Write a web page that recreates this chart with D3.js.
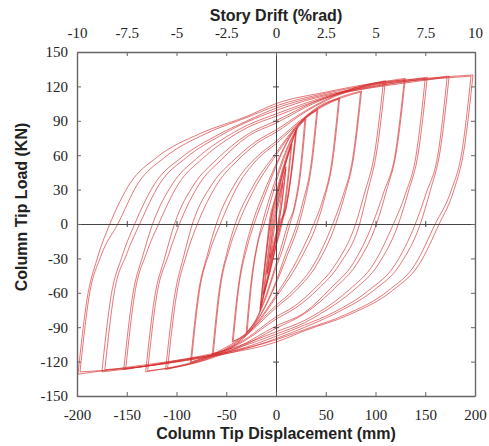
<!DOCTYPE html>
<html><head><meta charset="utf-8">
<script src="https://cdn.jsdelivr.net/npm/d3@7"></script>
<style>body{margin:0;background:#fff}</style></head>
<body>
<svg id="c" width="489" height="446"></svg>
<script>
// ---- tick values / labels ----
const dispTicks = [-200,-150,-100,-50,0,50,100,150,200];
const dispLabels = ["-200","-150","-100","-50","0","50","100","150","200"];
const driftTicks = [-10,-7.5,-5,-2.5,0,2.5,5,7.5,10];
const driftLabels = ["-10","-7.5","-5","-2.5","0","2.5","5","7.5","10"];
const loadTicks = [-150,-120,-90,-60,-30,0,30,60,90,120,150];
const loadLabels = ["-150","-120","-90","-60","-30","0","30","60","90","120","150"];

// ---- hysteresis branches [displacement mm, load kN] ----
const up7 = [[-6,-30],[-3,-12],[-1,0],[0,6],[4,22],[7,36]];
const dn7 = [[7,36],[4,14],[2,0],[0,-8],[-3,-18],[-6,-30]];
const up10 = [[-9,-44],[-5,-18],[-2,0],[0,10],[5,30],[10,50]];
const dn10 = [[10,50],[6,20],[3,0],[0,-12],[-5,-30],[-9,-44]];
const up10b = [[-9,-42],[-5,-16],[-3,0],[0,12],[5,32],[10,48]];
const dn10b = [[10,48],[6,18],[2,0],[0,-10],[-5,-28],[-9,-42]];
const up15 = [[-12,-60],[-8,-30],[-5,-8],[-4,0],[0,16],[6,40],[11,56],[15,68]];
const dn15 = [[15,68],[11,34],[7,8],[5,0],[0,-18],[-6,-40],[-12,-60]];
const up15b = [[-13,-62],[-9,-32],[-6,-9],[-5,0],[0,19],[6,42],[11,58],[16,70]];
const dn15b = [[16,70],[12,36],[8,9],[6,0],[0,-20],[-6,-42],[-13,-62]];
const up21a = [[-16,-76],[-12,-42],[-8,-14],[-6,0],[0,22],[8,48],[15,68],[21,84]];
const dn21a = [[21,84],[16,46],[10,14],[4,0],[0,-14],[-8,-46],[-16,-76]];
const up21b = [[-16,-74],[-12,-40],[-9,-16],[-7,0],[0,24],[8,50],[15,69],[20,82]];
const dn21b = [[20,82],[15,44],[9,12],[3,0],[0,-12],[-8,-44],[-16,-74]];
const up21c = [[-15,-72],[-11,-38],[-8,-13],[-6,0],[0,26],[8,52],[14,68],[20,80]];
const dn21c = [[20,80],[15,42],[10,13],[5,0],[0,-18],[-8,-48],[-15,-72]];
const up30a = [[-30,-95],[-25,-50],[-19,-18],[-14,0],[-6,24],[0,40],[10,64],[20,82],[30,92]];
const dn30a = [[30,92],[25,46],[19,15],[14,0],[6,-24],[0,-38],[-10,-64],[-20,-84],[-29,-94]];
const up30b = [[-29,-94],[-24,-48],[-18,-16],[-12,0],[-4,24],[0,36],[10,62],[20,81],[29,91]];
const dn30b = [[29,91],[24,45],[18,14],[12,0],[4,-24],[0,-35],[-10,-62],[-20,-83],[-30,-95]];
const up43a = [[-44,-103],[-38,-55],[-31,-22],[-24,0],[-12,28],[0,52],[15,78],[30,93],[42,100]];
const dn43a = [[42,100],[36,52],[29,20],[23,0],[11,-28],[0,-52],[-15,-79],[-30,-96],[-43,-102]];
const up43b = [[-43,-102],[-37,-53],[-29,-20],[-22,0],[-10,28],[0,50],[15,77],[30,92],[41,99]];
const dn43b = [[41,99],[35,51],[27,19],[21,0],[9,-28],[0,-50],[-15,-78],[-30,-95],[-44,-103]];
const up64a = [[-64,-114],[-57,-57],[-49,-24],[-41,0],[-25,30],[0,62],[20,85],[40,101],[64,110]];
const dn64a = [[64,110],[57,55],[49,23],[41,0],[25,-30],[0,-64],[-20,-88],[-40,-105],[-63,-113]];
const up64b = [[-63,-113],[-56,-56],[-47,-22],[-38,0],[-22,30],[0,60],[20,84],[40,100],[63,109]];
const dn64b = [[63,109],[56,54],[47,21],[38,0],[22,-30],[0,-62],[-20,-87],[-40,-104],[-64,-114]];
const up86a = [[-86,-121],[-78,-60],[-69,-27],[-60,0],[-42,34],[-20,58],[0,72],[30,94],[60,109],[86,116]];
const dn86a = [[86,116],[78,58],[69,25],[60,0],[42,-34],[20,-58],[0,-73],[-30,-97],[-60,-113],[-85,-120]];
const up86b = [[-85,-120],[-77,-59],[-67,-25],[-56,0],[-38,34],[-17,58],[0,70],[30,93],[60,108],[85,115]];
const dn86b = [[85,115],[77,57],[67,24],[57,0],[39,-34],[17,-58],[0,-71],[-30,-96],[-60,-112],[-86,-121]];
const up110a = [[-111,-127],[-102,-63],[-93,-29],[-84,0],[-64,35],[-42,56],[-20,72],[0,82],[30,99],[70,116],[110,125]];
const dn110a = [[110,125],[101,62],[92,28],[84,0],[64,-35],[42,-57],[20,-73],[0,-83],[-30,-101],[-70,-118],[-109,-126]];
const up110b = [[-109,-126],[-100,-62],[-90,-27],[-79,0],[-59,35],[-38,56],[-18,71],[0,80],[30,98],[70,115],[108,124]];
const dn110b = [[108,124],[99,61],[89,27],[80,0],[60,-35],[38,-57],[18,-72],[0,-81],[-30,-100],[-70,-117],[-111,-127]];
const up130a = [[-131,-129],[-122,-64],[-112,-30],[-102,0],[-82,35],[-60,56],[-29,78],[0,90],[40,107],[90,121],[130,127]];
const dn130a = [[130,127],[121,63],[111,29],[101,0],[81,-35],[59,-56],[29,-78],[0,-91],[-40,-109],[-90,-123],[-129,-128]];
const up130b = [[-129,-128],[-120,-63],[-108,-27],[-97,0],[-77,35],[-55,56],[-29,76],[0,88],[40,106],[90,120],[129,126]];
const dn130b = [[129,126],[120,62],[108,27],[97,0],[77,-35],[55,-56],[29,-77],[0,-89],[-40,-108],[-90,-122],[-131,-129]];
const up152a = [[-153,-127],[-144,-62],[-134,-28],[-124,0],[-104,35],[-80,57],[-50,76],[-29,86],[0,96],[50,111],[100,121],[152,128]];
const dn152a = [[152,128],[143,62],[133,28],[123,0],[103,-35],[79,-57],[49,-76],[29,-86],[0,-96],[-50,-111],[-100,-120],[-151,-126]];
const up152b = [[-151,-126],[-142,-61],[-130,-25],[-118,0],[-98,35],[-74,57],[-45,76],[-29,84],[0,94],[50,110],[100,120],[150,127]];
const dn152b = [[150,127],[141,61],[130,26],[118,0],[98,-35],[74,-57],[45,-76],[29,-84],[0,-94],[-50,-110],[-100,-119],[-153,-127]];
const up174a = [[-175,-129],[-166,-64],[-155,-29],[-142,0],[-122,35],[-95,58],[-60,77],[-29,90],[0,101],[40,111],[90,119],[130,124],[174,129]];
const dn174a = [[174,129],[165,64],[155,29],[145,0],[125,-35],[98,-58],[62,-77],[29,-90],[0,-100],[-40,-111],[-90,-119],[-130,-124],[-172,-127]];
const up174b = [[-172,-127],[-163,-62],[-150,-26],[-137,0],[-117,35],[-90,58],[-56,77],[-29,89],[0,99],[40,110],[90,118],[130,123],[172,128]];
const dn174b = [[172,128],[163,62],[151,27],[140,0],[120,-35],[93,-58],[58,-77],[29,-88],[0,-98],[-40,-110],[-90,-118],[-130,-124],[-175,-129]];
const up198a = [[-199,-131],[-190,-66],[-180,-31],[-167,0],[-147,35],[-120,58],[-76,79],[-29,94],[0,105],[50,115],[100,123],[150,127],[198,130]];
const dn198a = [[198,130],[189,65],[179,30],[164,0],[144,-35],[117,-58],[74,-79],[29,-93],[0,-103],[-50,-113],[-100,-120],[-150,-126],[-197,-129]];
const up198b = [[-197,-129],[-188,-64],[-176,-28],[-159,0],[-139,35],[-112,58],[-70,79],[-29,93],[0,103],[50,114],[100,122],[150,126],[196,129]];
const dn198b = [[196,129],[187,64],[176,29],[160,0],[140,-35],[113,-58],[70,-79],[29,-92],[0,-101],[-50,-112],[-100,-119],[-150,-125],[-199,-131]];

const branches = [up7,dn7,up10,dn10,up10b,dn10b,up15,dn15,up15b,dn15b,up21a,dn21a,up21b,dn21b,up21c,dn21c,
  up30a,dn30a,up30b,dn30b,up43a,dn43a,up43b,dn43b,up64a,dn64a,up64b,dn64b,
  up86a,dn86a,up86b,dn86b,up110a,dn110a,up110b,dn110b,up130a,dn130a,up130b,dn130b,
  up152a,dn152a,up152b,dn152b,up174a,dn174a,up174b,dn174b,up198a,dn198a,up198b,dn198b];

// ---- drawing ----
const svg = d3.select("#c");
const L = 77, R = 475, T = 52, B = 396;
const x = d3.scaleLinear().domain([-200,200]).range([L,R]);
const xd = d3.scaleLinear().domain([-10,10]).range([L,R]);
const y = d3.scaleLinear().domain([-150,150]).range([B,T]);

const line = d3.line().x(d => x(d[0])).y(d => y(d[1])).curve(d3.curveMonotoneX);
svg.append("g").selectAll("path").data(branches).join("path")
  .attr("d", line).attr("fill","none").attr("stroke","#d42a2c")
  .attr("stroke-width",0.8).attr("stroke-opacity",0.8);

// zero lines with small crossing ticks
function zeroAxis(g){ g.selectAll("path,line").attr("stroke","#444").attr("stroke-width",1); g.selectAll("text").remove(); }
svg.append("g").attr("transform",`translate(0,${y(0)})`)
  .call(d3.axisBottom(x).tickValues(dispTicks.filter(v=>Math.abs(v)<200)).tickSize(3).tickSizeOuter(0)).call(zeroAxis);
svg.append("g").attr("transform",`translate(0,${y(0)})`)
  .call(d3.axisTop(x).tickValues(dispTicks.filter(v=>Math.abs(v)<200)).tickSize(3).tickSizeOuter(0)).call(zeroAxis);
svg.append("g").attr("transform",`translate(${x(0)},0)`)
  .call(d3.axisLeft(y).tickValues(loadTicks.filter(v=>Math.abs(v)<150)).tickSize(3).tickSizeOuter(0)).call(zeroAxis);
svg.append("g").attr("transform",`translate(${x(0)},0)`)
  .call(d3.axisRight(y).tickValues(loadTicks.filter(v=>Math.abs(v)<150)).tickSize(3).tickSizeOuter(0)).call(zeroAxis);

function styleFrame(g){
  g.select(".domain").attr("stroke","#666").attr("stroke-width",1.4);
  g.selectAll(".tick line").attr("stroke","#666").attr("stroke-width",1);
  g.selectAll("text").attr("font-family","'Liberation Serif', serif").attr("font-size","15px").attr("fill","#222");
}
svg.append("g").attr("transform",`translate(0,${B})`)
  .call(d3.axisBottom(x).tickValues(dispTicks).tickFormat((d,i)=>dispLabels[i]).tickSizeInner(-4).tickSizeOuter(0).tickPadding(13)).call(styleFrame);
svg.append("g").attr("transform",`translate(0,${T})`)
  .call(d3.axisTop(xd).tickValues(driftTicks).tickFormat((d,i)=>driftLabels[i]).tickSizeInner(-4).tickSizeOuter(0).tickPadding(14)).call(styleFrame);
svg.append("g").attr("transform",`translate(${L},0)`)
  .call(d3.axisLeft(y).tickValues(loadTicks).tickFormat((d,i)=>loadLabels[i]).tickSizeInner(-4).tickSizeOuter(0).tickPadding(9)).call(styleFrame);
svg.append("g").attr("transform",`translate(${R},0)`)
  .call(d3.axisRight(y).tickValues(loadTicks).tickFormat("").tickSizeInner(-4).tickSizeOuter(0)).call(styleFrame);

// titles
const tf = "'Liberation Sans', Arial, sans-serif";
svg.append("text").attr("x",(L+R)/2).attr("y",21).attr("text-anchor","middle")
  .attr("font-family",tf).attr("font-weight","bold").attr("font-size","16px").attr("fill","#222").text("Story Drift (%rad)");
svg.append("text").attr("x",(L+R)/2).attr("y",439).attr("text-anchor","middle")
  .attr("font-family",tf).attr("font-weight","bold").attr("font-size","16px").attr("fill","#222").text("Column Tip Displacement (mm)");
svg.append("text").attr("transform","translate(27,207) rotate(-90)").attr("text-anchor","middle")
  .attr("font-family",tf).attr("font-weight","bold").attr("font-size","16px").attr("fill","#222").text("Column Tip Load (KN)");
</script>
</body></html>
